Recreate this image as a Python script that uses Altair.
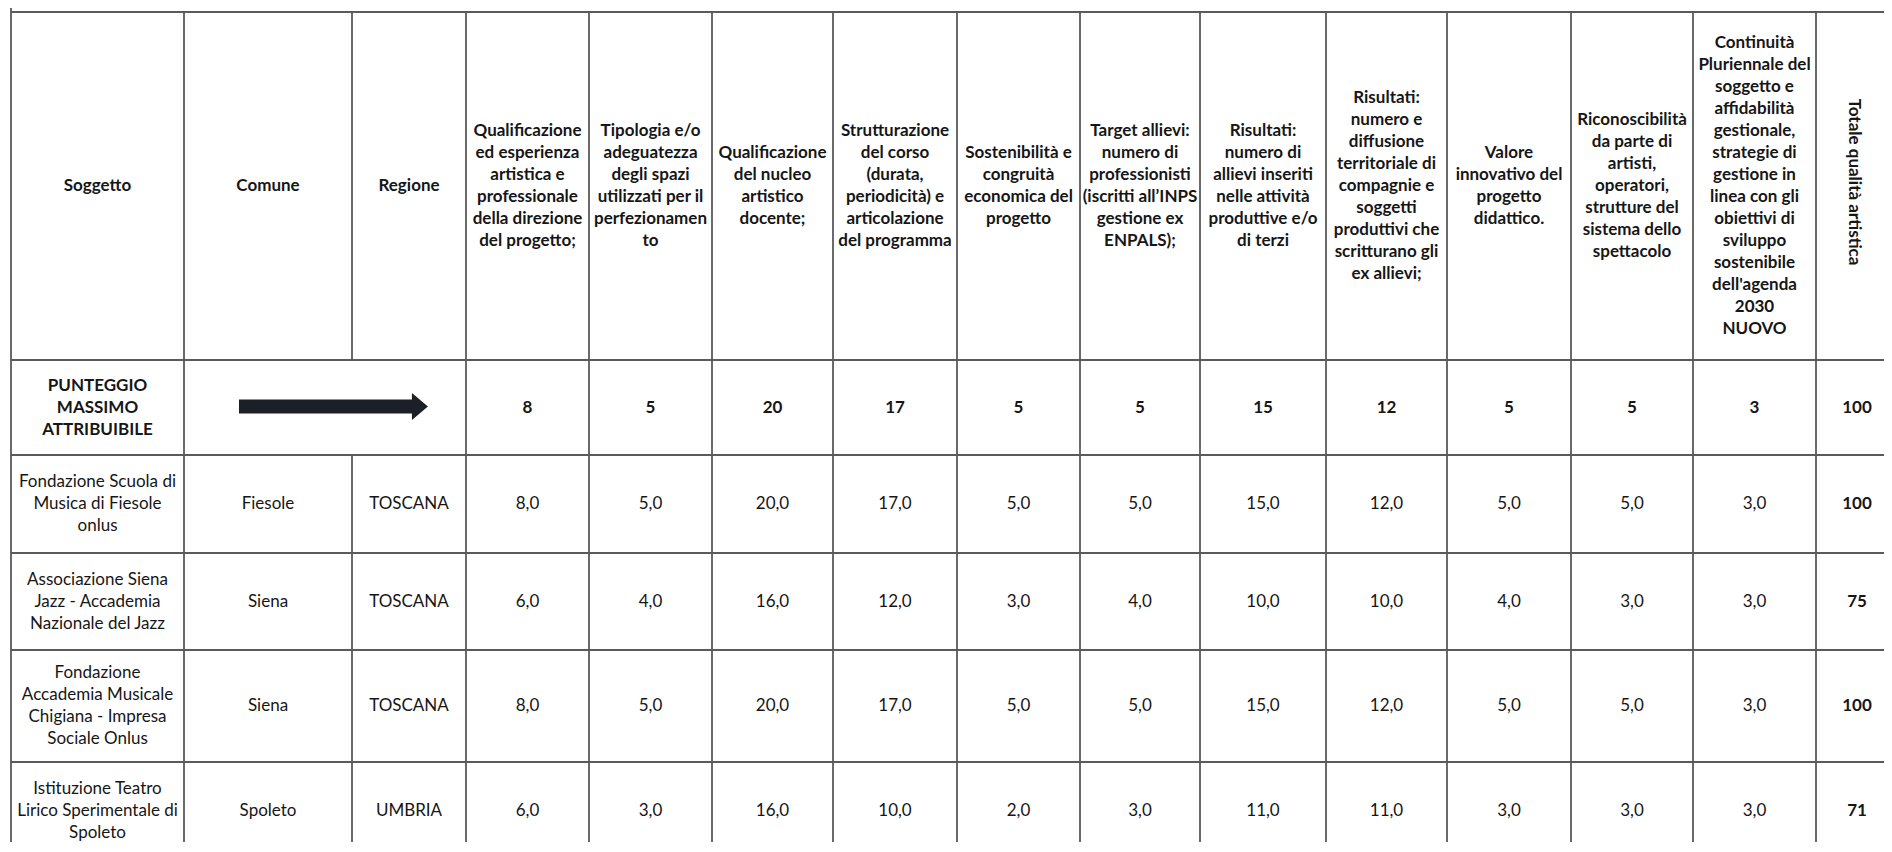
import altair as alt
import pandas as pd

# ---------------- data ----------------
header_fixed = ["Soggetto", "Comune", "Regione"]
criteria = [
    ["Qualificazione", "ed esperienza", "artistica e", "professionale", "della direzione", "del progetto;"],
    ["Tipologia e/o", "adeguatezza", "degli spazi", "utilizzati per il", "perfezionamen", "to"],
    ["Qualificazione", "del nucleo", "artistico", "docente;"],
    ["Strutturazione", "del corso", "(durata,", "periodicità) e", "articolazione", "del programma"],
    ["Sostenibilità e", "congruità", "economica del", "progetto"],
    ["Target allievi:", "numero di", "professionisti", "(iscritti all’INPS", "gestione ex", "ENPALS);"],
    ["Risultati:", "numero di", "allievi inseriti", "nelle attività", "produttive e/o", "di terzi"],
    ["Risultati:", "numero e", "diffusione", "territoriale di", "compagnie e", "soggetti",
     "produttivi che", "scritturano gli", "ex allievi;"],
    ["Valore", "innovativo del", "progetto", "didattico."],
    ["Riconoscibilità", "da parte di", "artisti,", "operatori,", "strutture del", "sistema dello", "spettacolo"],
    ["Continuità", "Pluriennale del", "soggetto e", "affidabilità", "gestionale,", "strategie di",
     "gestione in", "linea con gli", "obiettivi di", "sviluppo", "sostenibile", "dell'agenda", "2030", "NUOVO"],
]
total_header = "Totale qualità artistica"
max_label = ["PUNTEGGIO", "MASSIMO", "ATTRIBUIBILE"]
max_scores = [8, 5, 20, 17, 5, 5, 15, 12, 5, 5, 3]
max_total = 100

soggetti = [
    ["Fondazione Scuola di", "Musica di Fiesole", "onlus"],
    ["Associazione Siena", "Jazz - Accademia", "Nazionale del Jazz"],
    ["Fondazione", "Accademia Musicale", "Chigiana - Impresa", "Sociale Onlus"],
    ["Istituzione Teatro", "Lirico Sperimentale di", "Spoleto"],
]
comuni = ["Fiesole", "Siena", "Siena", "Spoleto"]
regioni = ["TOSCANA", "TOSCANA", "TOSCANA", "UMBRIA"]
scores_fiesole = [8.0, 5.0, 20.0, 17.0, 5.0, 5.0, 15.0, 12.0, 5.0, 5.0, 3.0]
scores_sienajazz = [6.0, 4.0, 16.0, 12.0, 3.0, 4.0, 10.0, 10.0, 4.0, 3.0, 3.0]
scores_chigiana = [8.0, 5.0, 20.0, 17.0, 5.0, 5.0, 15.0, 12.0, 5.0, 5.0, 3.0]
scores_spoleto = [6.0, 3.0, 16.0, 10.0, 2.0, 3.0, 11.0, 11.0, 3.0, 3.0, 3.0]
scores = [scores_fiesole, scores_sienajazz, scores_chigiana, scores_spoleto]
totals = [100, 75, 100, 71]

# ---------------- layout (table grid) ----------------
col_edges = [11, 184, 352, 466, 589, 712, 833, 957, 1080, 1200, 1326, 1447, 1571, 1693, 1816, 1898]
row_edges = [12, 360, 455, 553, 650, 762, 860]
arrow_frac = (0.195, 0.865)   # arrow start / tip inside merged Comune+Regione cell
LH = 22                       # text line height
W, H = 1876, 834
FONT = "Lato"
FS = 17
LINE = "#5a5a5a"
INK = "#161616"


def centers(e):
    return [(a + b) / 2 for a, b in zip(e[:-1], e[1:])]


cx, cy = centers(col_edges), centers(row_edges)


def fmt(v):
    return f"{v:.1f}".replace(".", ",")


def cell(x, y, lines):
    if isinstance(lines, str):
        lines = [lines]
    # first-line position so that the whole block is vertically centred
    return dict(x=x, y=y - (len(lines) - 1) * LH / 2, t="\n".join(lines))


bold, reg = [], []
for i, h in enumerate(header_fixed):
    bold.append(cell(cx[i], cy[0], h))
for j, lines in enumerate(criteria):
    bold.append(cell(cx[3 + j], cy[0], lines))
rot = pd.DataFrame([dict(x=cx[14] - 3, y=cy[0] - 4, t=total_header)])

bold.append(cell(cx[0], cy[1], max_label))
for j, v in enumerate(max_scores):
    bold.append(cell(cx[3 + j], cy[1], str(v)))
bold.append(cell(cx[14], cy[1], str(max_total)))

for r in range(len(soggetti)):
    y = cy[2 + r]
    reg.append(cell(cx[0], y, soggetti[r]))
    reg.append(cell(cx[1], y, comuni[r]))
    reg.append(cell(cx[2], y, regioni[r]))
    for j, v in enumerate(scores[r]):
        reg.append(cell(cx[3 + j], y, fmt(v)))
    bold.append(cell(cx[14], y, str(totals[r])))

bold_df, reg_df = pd.DataFrame(bold), pd.DataFrame(reg)

# grid lines
hl = pd.DataFrame([dict(x=col_edges[0], x2=col_edges[-1], y=yy) for yy in row_edges[:-1]])
vl = []
for i, xx in enumerate(col_edges[:-1]):
    top = 0 if i == 0 else row_edges[0]
    if i == 2:
        vl.append(dict(x=xx, y=top, y2=row_edges[1]))
        vl.append(dict(x=xx, y=row_edges[2], y2=row_edges[-1]))
    else:
        vl.append(dict(x=xx, y=top, y2=row_edges[-1]))
vl = pd.DataFrame(vl)

# arrow in merged cell
c0, c1 = col_edges[1], col_edges[3]
a_start = c0 + arrow_frac[0] * (c1 - c0)
a_tip = c0 + arrow_frac[1] * (c1 - c0)
head_len = 16
shaft = pd.DataFrame([dict(x=a_start, x2=a_tip - head_len + 1, y=cy[1] - 1)])
head = pd.DataFrame([dict(x=a_tip - head_len / 2, y=cy[1] - 1)])

xs = alt.Scale(domain=[8, 8 + W], nice=False, zero=False)
ys = alt.Scale(domain=[8, 8 + H], nice=False, zero=False, reverse=True)
X = lambda: alt.X("x:Q", scale=xs, axis=None)
Y = lambda: alt.Y("y:Q", scale=ys, axis=None)

h_rules = alt.Chart(hl).mark_rule(color=LINE, strokeWidth=1.8).encode(X(), x2="x2:Q", y=Y())
v_rules = alt.Chart(vl).mark_rule(color=LINE, strokeWidth=1.8).encode(X(), y=Y(), y2="y2:Q")

txt_kw = dict(align="center", baseline="middle", lineBreak="\n", lineHeight=LH, font=FONT, fontSize=FS, color=INK)
t_bold = alt.Chart(bold_df).mark_text(fontWeight="bold", **txt_kw).encode(X(), Y(), text="t:N")
t_reg = alt.Chart(reg_df).mark_text(fontWeight="normal", **txt_kw).encode(X(), Y(), text="t:N")
t_rot = alt.Chart(rot).mark_text(fontWeight="bold", angle=90, **txt_kw).encode(X(), Y(), text="t:N")

arrow_shaft = alt.Chart(shaft).mark_rule(color="#1b2027", strokeWidth=14, strokeCap="butt").encode(
    X(), x2="x2:Q", y=Y())
arrow_head = alt.Chart(head).mark_point(
    shape="M-0.593,-1L0.593,0L-0.593,1Z", size=729, filled=True, color="#1b2027", opacity=1, strokeWidth=0
).encode(X(), Y())

chart = alt.layer(h_rules, v_rules, arrow_shaft, arrow_head, t_bold, t_reg, t_rot).properties(
    width=W, height=H, padding=0, background="white",
    autosize=alt.AutoSizeParams(type="none"),
).configure_view(stroke=None)

chart.save("out.html", embed_options={"renderer": "svg", "actions": False})
